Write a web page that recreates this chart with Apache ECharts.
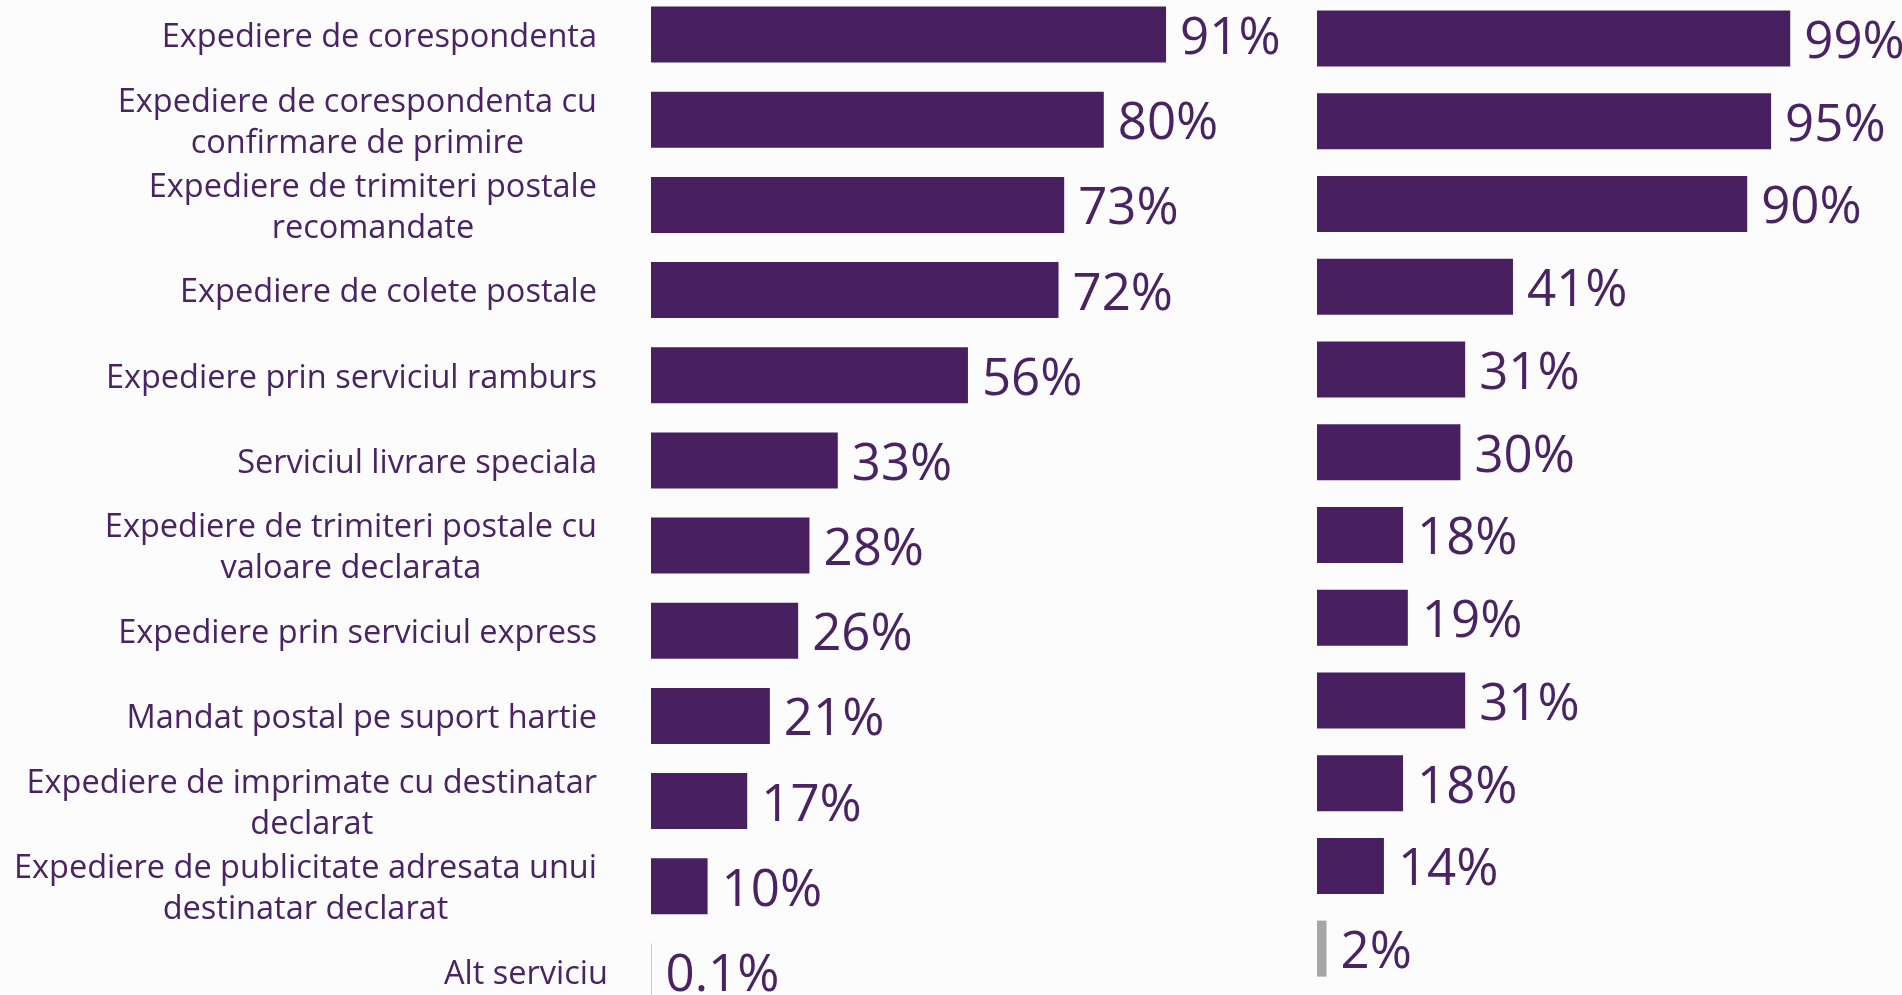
<!DOCTYPE html>
<html>
<head>
<meta charset="utf-8">
<script src="https://cdn.jsdelivr.net/npm/echarts@6/dist/echarts.min.js"></script>
<style>
html,body{margin:0;padding:0;background:#fcfcfc;}
#chart{width:1902px;height:995px;}
</style>
</head>
<body>
<div id="chart"></div>
<script>
var categories = [
  'Expediere de corespondenta',
  'Expediere de corespondenta cu\nconfirmare de primire',
  'Expediere de trimiteri postale\nrecomandate',
  'Expediere de colete postale',
  'Expediere prin serviciul ramburs',
  'Serviciul livrare speciala',
  'Expediere de trimiteri postale cu\nvaloare declarata',
  'Expediere prin serviciul express',
  'Mandat postal pe suport hartie',
  'Expediere de imprimate cu destinatar\ndeclarat',
  'Expediere de publicitate adresata unui\ndestinatar declarat',
  'Alt serviciu'
];
var leftValues = [91, 80, 73, 72, 56, 33, 28, 26, 21, 17, 10, 0.1];
var rightValues = [99, 95, 90, 41, 31, 30, 18, 19, 31, 18, 14, 2];

var PURPLE = '#482060';
var TEXT = '#4a2364';
var GREY = '#a6a6a6';
var FONT = '"Open Sans", Roboto, sans-serif';

function barData(vals) {
  return vals.map(function (v, i) {
    return {
      value: v,
      itemStyle: { color: i === vals.length - 1 ? GREY : PURPLE }
    };
  });
}

var chart = echarts.init(document.getElementById('chart'));
var labelCfg = {
  show: true,
  position: 'right',
  distance: 14,
  color: TEXT,
  fontSize: 51,
  fontFamily: FONT,
  offset: [0, 5],
  formatter: function (p) { return p.value + '%'; }
};
chart.setOption({
  backgroundColor: '#fcfcfc',
  animation: false,
  grid: [
    { left: 651, width: 566, top: -8, height: 1022, outerBoundsMode: 'none', containLabel: false },
    { left: 1317, width: 478, top: -3, height: 993, outerBoundsMode: 'none', containLabel: false }
  ],
  xAxis: [
    { gridIndex: 0, type: 'value', min: 0, max: 100, show: false },
    { gridIndex: 1, type: 'value', min: 0, max: 100, show: false }
  ],
  yAxis: [
    {
      gridIndex: 0, type: 'category', inverse: true, data: categories,
      axisLine: { show: false }, axisTick: { show: false }, splitLine: { show: false },
      axisLabel: {
        margin: 54,
        align: 'right',
        color: TEXT,
        fontSize: 32.5,
        fontFamily: FONT,
        lineHeight: 41,
        formatter: function (v) {
          var tag = v === 'Alt serviciu' ? 'd' : 'c';
          return v.split('\n').map(function (s) { return '{' + tag + '|' + s + '}'; }).join('\n');
        },
        rich: {
          c: { align: 'center', color: TEXT, fontSize: 32.5, fontFamily: FONT, lineHeight: 41, padding: [6, 0, 0, 0] },
          d: { align: 'center', color: TEXT, fontSize: 32.5, fontFamily: FONT, lineHeight: 41, padding: [6, -11, 0, 0] }
        }
      }
    },
    {
      gridIndex: 1, type: 'category', inverse: true, data: categories,
      axisLine: { show: false }, axisTick: { show: false }, splitLine: { show: false },
      axisLabel: { show: false }
    }
  ],
  series: [
    {
      type: 'bar', xAxisIndex: 0, yAxisIndex: 0, barWidth: 56,
      data: barData(leftValues), label: labelCfg
    },
    {
      type: 'bar', xAxisIndex: 1, yAxisIndex: 1, barWidth: 56,
      data: barData(rightValues), label: labelCfg
    }
  ]
});
</script>
</body>
</html>
